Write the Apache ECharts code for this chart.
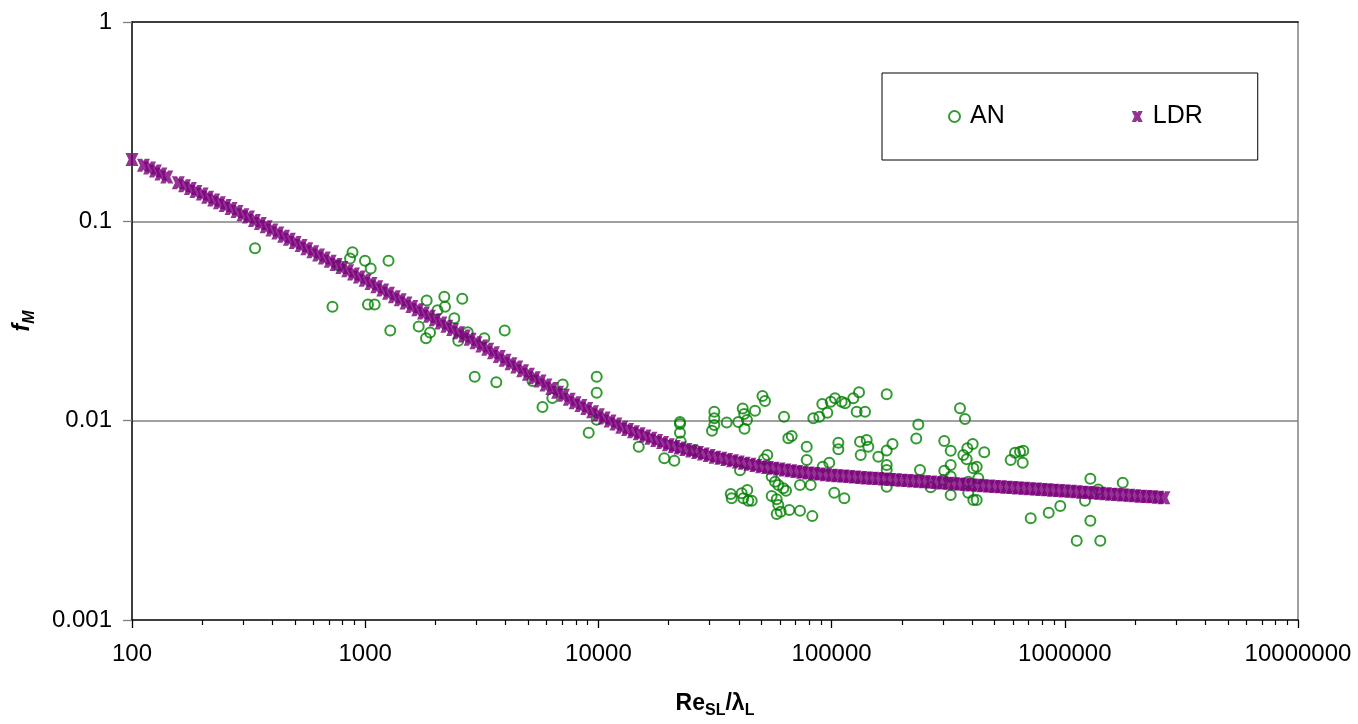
<!DOCTYPE html>
<html>
<head>
<meta charset="utf-8">
<script src="https://cdn.jsdelivr.net/npm/echarts@6/dist/echarts.min.js"></script>
<style>
  html, body { margin: 0; padding: 0; background: #ffffff; }
  #chart { width: 1358px; height: 724px; }
</style>
</head>
<body>
<div id="chart"></div>
<script>
// Measured friction factor (AN) against Re_SL / lambda_L
const AN_RE = [
  337, 882, 861, 998, 1056, 1259, 768, 724, 1028, 1098, 1281, 1835, 2184, 2608, 2042, 2199,
  2411, 1696, 1897, 1823, 2752, 2507, 3242, 3965, 2948, 3649, 5217, 5758, 6344, 7030, 9833, 9833,
  9833, 9087, 14890, 19170, 21170, 22380, 22380, 22380, 22540, 25960, 31410, 31410, 31410, 30700,
  35500, 41570, 42190, 39810, 43370, 42320, 46950, 50530, 51800, 62520, 40480, 36930, 37290, 41170,
  43500, 43930, 41820, 45440, 51310, 52990, 55340, 57200, 59080, 62080, 63760, 55340, 58160, 59080,
  58160, 60480, 65860, 73180, 82660, 73180, 81360, 65210, 67440, 78210, 78210, 91580, 97750, 102700,
  113400, 106900, 106900, 83480, 88580, 95850, 91220, 99110, 103400, 110500, 114200, 123900, 131100,
  128100, 139100, 172300, 132400, 141400, 143700, 133300, 158600, 172300, 182500, 172300, 172300,
  172300, 235400, 230700, 239400, 355300, 373300, 266000, 304200, 324100, 367100, 381900, 402900,
  379600, 451700, 324100, 304200, 324100, 405300, 419000, 425700, 385700, 301300, 324100, 385700,
  405300, 419000, 586100, 611600, 642700, 663900, 660000, 714100, 853100, 956500, 1287000, 1392000,
  1221000, 1287000, 1125000, 1420000, 1772000
];
const AN_F = [
  0.0732, 0.0699, 0.0651, 0.0634, 0.0580, 0.0634, 0.0600, 0.0373, 0.0383, 0.0383, 0.0283, 0.0401, 0.0419, 0.0409, 0.0358, 0.0373,
  0.0326, 0.0297, 0.0277, 0.0259, 0.0278, 0.0252, 0.0259, 0.0283, 0.0166, 0.0156, 0.0158, 0.0117, 0.0130, 0.0152, 0.0166, 0.0138,
  0.0101, 0.0087, 0.0074, 0.00647, 0.00630, 0.00985, 0.00962, 0.0087, 0.00785, 0.00713, 0.01109, 0.01027, 0.00951, 0.00891,
  0.00979, 0.0115, 0.0108, 0.00985, 0.01008, 0.00911, 0.0112, 0.0133, 0.01255, 0.01047, 0.00564, 0.00429, 0.00408, 0.00432,
  0.00449, 0.00397, 0.00408, 0.00397, 0.00640, 0.00673, 0.00524, 0.00494, 0.00476, 0.00458, 0.00445, 0.00419, 0.00403, 0.00378,
  0.00340, 0.00349, 0.00356, 0.00353, 0.00332, 0.00476, 0.00476, 0.00816, 0.00838, 0.0074, 0.00635, 0.00587, 0.00615, 0.00435,
  0.00408, 0.00775, 0.00718, 0.01027, 0.01047, 0.01096, 0.01212, 0.01245, 0.01295, 0.01245, 0.01222, 0.01295, 0.01388,
  0.01109, 0.01109, 0.01356, 0.00784, 0.00800, 0.0074, 0.00673, 0.00659, 0.00709, 0.00764, 0.00599, 0.00566,
  0.00466, 0.00957, 0.00814, 0.00566, 0.01153, 0.0102, 0.00463, 0.00791, 0.00707, 0.00673, 0.00727, 0.00764,
  0.0064, 0.00694, 0.00599, 0.00561, 0.00524, 0.00577, 0.00587, 0.00514, 0.00494, 0.00504, 0.00424, 0.00435,
  0.0040, 0.0040, 0.00635, 0.00691, 0.00699, 0.00707, 0.00615, 0.00324, 0.00345, 0.00373, 0.00511, 0.00452,
  0.00397, 0.00315, 0.0025, 0.0025, 0.00488
];

// LDR model curve
const LDR_RE = [
  100, 112, 119, 126, 133, 141, 158, 168, 178, 188, 200, 211, 224, 237, 251, 266, 282, 299, 316,
  335, 355, 376, 398, 422, 447, 473, 501, 531, 562, 596, 631, 668, 708, 750, 794, 841, 891, 944, 1000,
  1059, 1122, 1189, 1259, 1334, 1413, 1496, 1585, 1679, 1778, 1884, 1995, 2113, 2239, 2371, 2512, 2661,
  2818, 2985, 3162, 3350, 3548, 3758, 3981, 4217, 4467, 4732, 5012, 5309, 5623, 5957, 6310, 6683, 7079,
  7499, 7943, 8414, 8913, 9441, 10000, 10590, 11220, 11890, 12590, 13340, 14130, 14960, 15850, 16790,
  17780, 18840, 19950, 21130, 22390, 23710, 25120, 26610, 28180, 29850, 31620, 33500, 35480, 37580,
  39810, 42170, 44670, 47320, 50120, 53090, 56230, 59570, 63100, 66830, 70790, 74990, 79430, 84140,
  89130, 94410, 100000, 105900, 112200, 118900, 125900, 133400, 141300, 149600, 158500, 167900, 177800,
  188400, 199500, 211300, 223900, 237100, 251200, 266100, 281800, 298500, 316200, 335000, 354800,
  375800, 398100, 421700, 446700, 473200, 501200, 530900, 562300, 595700, 631000, 668300, 707900,
  749900, 794300, 841400, 891300, 944100, 1000000, 1059000, 1122000, 1189000, 1259000, 1334000,
  1413000, 1496000, 1585000, 1679000, 1778000, 1884000, 1995000, 2113000, 2239000, 2371000, 2512000,
  2661000
];
const LDR_F = [
  0.204, 0.191, 0.185, 0.179, 0.173, 0.167, 0.156, 0.151, 0.146, 0.141, 0.137, 0.132, 0.128, 0.124, 0.120, 0.116, 0.112, 0.108, 0.105,
  0.101, 0.0974, 0.0939, 0.0906, 0.0873, 0.0842, 0.0812, 0.0783, 0.0756, 0.0729, 0.0703, 0.0678, 0.0654, 0.0630, 0.0608, 0.0586, 0.0565, 0.0545, 0.0526, 0.0507,
  0.0488, 0.0470, 0.0452, 0.0436, 0.0419, 0.0404, 0.0389, 0.0374, 0.0360, 0.0347, 0.0334, 0.0321, 0.0309, 0.0298, 0.0287, 0.0276, 0.0266,
  0.0256, 0.0246, 0.0237, 0.0228, 0.0219, 0.0210, 0.0201, 0.0193, 0.0186, 0.0178, 0.0171, 0.0164, 0.0158, 0.0151, 0.0145, 0.0139, 0.0134,
  0.0128, 0.0123, 0.0119, 0.0115, 0.0111, 0.0107, 0.0103, 0.00995, 0.00961, 0.00927, 0.00904, 0.00881, 0.00859, 0.00838, 0.00817,
  0.00796, 0.00776, 0.00757, 0.00743, 0.00730, 0.00717, 0.00705, 0.00692, 0.00680, 0.00668, 0.00656, 0.00647, 0.00638, 0.00630,
  0.00621, 0.00612, 0.00604, 0.00596, 0.00588, 0.00582, 0.00577, 0.00572, 0.00566, 0.00561, 0.00556, 0.00551, 0.00546, 0.00543,
  0.00540, 0.00536, 0.00533, 0.00530, 0.00527, 0.00524, 0.00521, 0.00519, 0.00516, 0.00514, 0.00512, 0.00510, 0.00507,
  0.00505, 0.00503, 0.00501, 0.00498, 0.00496, 0.00494, 0.00492, 0.00489, 0.00487, 0.00485, 0.00483, 0.00481,
  0.00479, 0.00476, 0.00474, 0.00472, 0.00470, 0.00468, 0.00466, 0.00464, 0.00462, 0.00460, 0.00458, 0.00456,
  0.00454, 0.00452, 0.00450, 0.00448, 0.00446, 0.00444, 0.00442, 0.00440, 0.00438, 0.00436, 0.00434,
  0.00432, 0.00430, 0.00428, 0.00426, 0.00424, 0.00422, 0.00420, 0.00418, 0.00416, 0.00415, 0.00413,
  0.00411
];

// Axis ticks
const X_TICKS = [100, 1000, 10000, 100000, 1000000, 10000000];
const X_MINOR_TICKS = [
  200, 300, 400, 500, 600, 700, 800, 900,
  2000, 3000, 4000, 5000, 6000, 7000, 8000, 9000,
  20000, 30000, 40000, 50000, 60000, 70000, 80000, 90000,
  200000, 300000, 400000, 500000, 600000, 700000, 800000, 900000,
  2000000, 3000000, 4000000, 5000000, 6000000, 7000000, 8000000, 9000000
];
const Y_TICKS = [0.001, 0.01, 0.1, 1];

const FONT = '"Liberation Sans", Arial, Helvetica, sans-serif';
// Heavy "x" marker for the model points
const X_MARK = 'path://M0,0L4,0L5,1.6L6,0L10,0L7.6,5L10,10L6,10L5,8.4L4,10L0,10L2.4,5Z';

const chart = echarts.init(document.getElementById('chart'), null, { renderer: 'canvas' });

const xMin = X_TICKS[0], xMax = X_TICKS[X_TICKS.length - 1];
const yMin = Y_TICKS[0], yMax = Y_TICKS[Y_TICKS.length - 1];

const option = {
  animation: false,
  backgroundColor: '#ffffff',
  grid: { left: 132, right: 60, top: 22, bottom: 104, containLabel: false },
  legend: {
    left: 882,
    top: 73,
    orient: 'horizontal',
    padding: [31, 55, 31, 66],
    itemGap: 127,
    itemWidth: 11,
    itemHeight: 11,
    borderColor: '#000000',
    borderWidth: 1,
    backgroundColor: '#ffffff',
    selectedMode: false,
    textStyle: { fontSize: 25, fontFamily: FONT, color: '#000000', padding: [0, 0, 0, 5] },
    data: [
      { name: 'AN', icon: 'circle' },
      { name: 'LDR', icon: X_MARK }
    ]
  },
  xAxis: [
    {
      type: 'log', logBase: 10, min: xMin, max: xMax, position: 'bottom',
      name: '{b|Re}{s|SL}{b|/λ}{s|L}',
      nameLocation: 'middle',
      nameGap: 69,
      nameTextStyle: {
        rich: {
          b: { fontSize: 23, fontWeight: 'bold', fontFamily: FONT, color: '#000', lineHeight: 30 },
          s: { fontSize: 16, fontWeight: 'bold', fontFamily: FONT, color: '#000', lineHeight: 16, verticalAlign: 'bottom' }
        }
      },
      axisLine: { show: true, onZero: false, lineStyle: { color: '#000000', width: 1.5 } },
      axisTick: { show: true, inside: false, length: 8, lineStyle: { color: '#000000', width: 1.3 } },
      axisLabel: {
        show: true, margin: 22, fontSize: 24, fontFamily: FONT, color: '#000000',
        formatter: v => String(Math.round(v))
      },
      splitLine: { show: false },
      minorTick: { show: false }
    },
    {
      type: 'log', logBase: 10, min: xMin, max: xMax, position: 'bottom',
      axisLine: { show: false },
      axisTick: { show: true, inside: false, length: 5, customValues: X_MINOR_TICKS, lineStyle: { color: '#000000', width: 1.2 } },
      axisLabel: { show: false },
      splitLine: { show: false }
    },
    {
      type: 'log', logBase: 10, min: xMin, max: xMax, position: 'top',
      axisLine: { show: true, lineStyle: { color: '#000000', width: 1.5 } },
      axisTick: { show: false },
      axisLabel: { show: false },
      splitLine: { show: false }
    }
  ],
  yAxis: [
    {
      type: 'log', logBase: 10, min: yMin, max: yMax, position: 'left',
      name: '{f|f}{m|M}',
      nameLocation: 'middle',
      nameGap: 94,
      nameRotate: 90,
      nameTextStyle: {
        rich: {
          f: { fontSize: 23, fontWeight: 'bold', fontStyle: 'italic', fontFamily: FONT, color: '#000', lineHeight: 30 },
          m: { fontSize: 16, fontWeight: 'bold', fontStyle: 'italic', fontFamily: FONT, color: '#000', lineHeight: 16, verticalAlign: 'bottom' }
        }
      },
      axisLine: { show: true, onZero: false, lineStyle: { color: '#000000', width: 1.5 } },
      axisTick: { show: true, inside: false, length: 9, lineStyle: { color: '#808080', width: 1.3 } },
      axisLabel: {
        show: true, margin: 20, fontSize: 24, fontFamily: FONT, color: '#000000',
        formatter: v => String(Number(v.toPrecision(3)))
      },
      splitLine: { show: true, showMinLine: false, showMaxLine: false, lineStyle: { color: '#808080', width: 1.5 } },
      minorTick: { show: false }
    },
    {
      type: 'log', logBase: 10, min: yMin, max: yMax, position: 'right',
      axisLine: { show: true, onZero: false, lineStyle: { color: '#808080', width: 1.5 } },
      axisTick: { show: false },
      axisLabel: { show: false },
      splitLine: { show: false }
    }
  ],
  series: [
    {
      name: 'AN',
      type: 'scatter',
      xAxisIndex: 0,
      yAxisIndex: 0,
      symbol: 'circle',
      symbolSize: 10,
      silent: true,
      z: 2,
      itemStyle: { color: 'rgba(255,255,255,0)', borderColor: '#008000', borderWidth: 2 },
      emphasis: { disabled: true },
      data: AN_RE.map((x, i) => [x, AN_F[i]])
    },
    {
      name: 'LDR',
      type: 'scatter',
      xAxisIndex: 0,
      yAxisIndex: 0,
      symbol: X_MARK,
      symbolSize: 13,
      silent: true,
      z: 3,
      itemStyle: { color: '#7a007a' },
      emphasis: { disabled: true },
      data: LDR_RE.map((x, i) => [x, LDR_F[i]])
    }
  ]
};

chart.setOption(option);
</script>
</body>
</html>
